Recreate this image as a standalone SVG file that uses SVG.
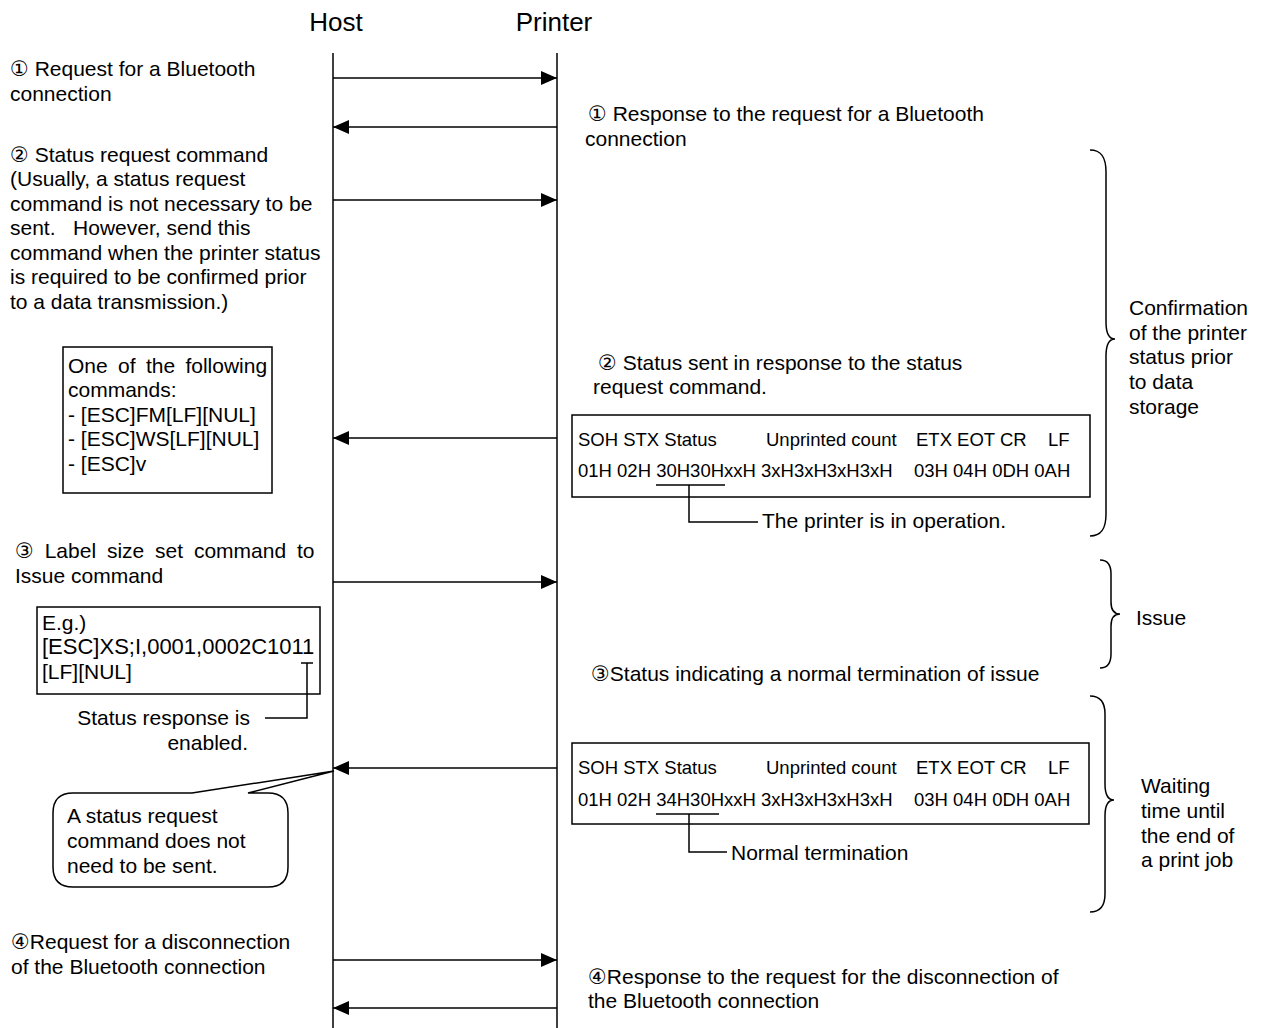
<svg xmlns="http://www.w3.org/2000/svg" width="1266" height="1028" viewBox="0 0 1266 1028">
<defs>
<marker id="ah" markerWidth="16" markerHeight="14" refX="16" refY="7" orient="auto" markerUnits="userSpaceOnUse">
<path d="M0,0 L16,7 L0,14 Z" fill="#000"/>
</marker>
<style>
text{font-family:"Liberation Sans",Arial,"DejaVu Sans",sans-serif;fill:#000;}
.t{font-size:21px;}
.s{font-size:18.5px;}
.h{font-size:26px;}
.ln{stroke:#000;stroke-width:1.5;fill:none;}
.msg{stroke:#000;stroke-width:1.5;fill:none;marker-end:url(#ah);}
.box{stroke:#000;stroke-width:1.5;fill:#fff;}
</style>
</defs>
<rect width="1266" height="1028" fill="#fff"/>

<g id="host">
<text class="h" x="336" y="31" text-anchor="middle">Host</text>
<line class="ln" x1="333" y1="53" x2="333" y2="1028"/>
</g>
<g id="printer">
<text class="h" x="554" y="31" text-anchor="middle">Printer</text>
<line class="ln" x1="557" y1="53" x2="557" y2="1028"/>
</g>

<g id="connectors">
<line class="msg" x1="333" y1="78" x2="557" y2="78"/>
<line class="msg" x1="557" y1="127" x2="333" y2="127"/>
<line class="msg" x1="333" y1="200" x2="557" y2="200"/>
<line class="msg" x1="557" y1="438" x2="333" y2="438"/>
<line class="msg" x1="333" y1="582" x2="557" y2="582"/>
<line class="msg" x1="557" y1="768" x2="333" y2="768"/>
<line class="msg" x1="333" y1="960" x2="557" y2="960"/>
<line class="msg" x1="557" y1="1008" x2="333" y2="1008"/>
</g>

<g id="req1">
<text class="t" x="10" y="76">① Request for a Bluetooth</text>
<text class="t" x="10" y="101">connection</text>
</g>
<g id="resp1">
<text class="t" x="588" y="121">① Response to the request for a Bluetooth</text>
<text class="t" x="585" y="146">connection</text>
</g>

<g id="req2">
<text class="t" x="10" y="162">② Status request command</text>
<text class="t" x="10" y="186">(Usually, a status request</text>
<text class="t" x="10" y="211">command is not necessary to be</text>
<text class="t" x="10" y="235" xml:space="preserve">sent.   However, send this</text>
<text class="t" x="10" y="260">command when the printer status</text>
<text class="t" x="10" y="284">is required to be confirmed prior</text>
<text class="t" x="10" y="309">to a data transmission.)</text>
</g>

<g id="cmdbox">
<rect class="box" x="63" y="347" width="209" height="146"/>
<text class="t" x="68" y="373" style="word-spacing:4.5px">One of the following</text>
<text class="t" x="68" y="397">commands:</text>
<text class="t" x="68" y="422">- [ESC]FM[LF][NUL]</text>
<text class="t" x="68" y="446">- [ESC]WS[LF][NUL]</text>
<text class="t" x="68" y="471">- [ESC]v</text>
</g>

<g id="resp2">
<text class="t" x="598" y="370">② Status sent in response to the status</text>
<text class="t" x="593" y="394">request command.</text>
</g>

<g id="statusbox1">
<rect class="box" x="572" y="415" width="518" height="82"/>
<text class="s" x="578" y="446">SOH STX Status</text>
<text class="s" x="766" y="446">Unprinted count</text>
<text class="s" x="916" y="446">ETX EOT CR</text>
<text class="s" x="1048" y="446">LF</text>
<text class="s" x="578" y="477">01H 02H 30H30HxxH 3xH3xH3xH3xH</text>
<text class="s" x="914" y="477">03H 04H 0DH 0AH</text>
<line class="ln" x1="656" y1="485" x2="725" y2="485"/>
<polyline class="ln" points="689,485 689,522 758,522"/>
<text class="t" x="762" y="528">The printer is in operation.</text>
</g>

<g id="brace1">
<path class="ln" d="M1090,150 C1102,150 1106,158 1106,172 L1106,322 C1106,334 1110,339 1115,339 C1110,339 1106,344 1106,356 L1106,514 C1106,528 1102,536 1090,536"/>
<text class="t" x="1129" y="315">Confirmation</text>
<text class="t" x="1129" y="340">of the printer</text>
<text class="t" x="1129" y="364">status prior</text>
<text class="t" x="1129" y="389">to data</text>
<text class="t" x="1129" y="414">storage</text>
</g>

<g id="req3">
<text class="t" x="15" y="558" style="word-spacing:5px">③ Label size set command to</text>
<text class="t" x="15" y="583">Issue command</text>
</g>

<g id="egbox">
<rect class="box" x="37" y="607" width="283" height="87"/>
<text class="t" x="42" y="630">E.g.)</text>
<text x="42" y="654" style="font-size:22px">[ESC]XS;I,0001,0002C1011</text>
<text class="t" x="42" y="679">[LF][NUL]</text>
<line class="ln" x1="301" y1="663" x2="313" y2="663"/>
<polyline class="ln" points="307,663 307,718 265,718"/>
<text class="t" x="250" y="725" text-anchor="end">Status response is</text>
<text class="t" x="248" y="750" text-anchor="end">enabled.</text>
</g>

<g id="brace2">
<path class="ln" d="M1100,560 C1108,560 1111,565 1111,574 L1111,602 C1111,610 1114,614 1120,614 C1114,614 1111,618 1111,626 L1111,654 C1111,663 1108,668 1100,668"/>
<text class="t" x="1136" y="625">Issue</text>
</g>

<g id="resp3">
<text class="t" x="591" y="681">③Status indicating a normal termination of issue</text>
</g>

<g id="brace3">
<path class="ln" d="M1090,696 C1100,696 1105,702 1105,714 L1105,784 C1105,795 1108,800 1114,800 C1108,800 1105,805 1105,816 L1105,894 C1105,906 1100,912 1090,912"/>
<text class="t" x="1141" y="793">Waiting</text>
<text class="t" x="1141" y="818">time until</text>
<text class="t" x="1141" y="843">the end of</text>
<text class="t" x="1141" y="867">a print job</text>
</g>

<g id="statusbox2">
<rect class="box" x="572" y="743" width="517" height="81"/>
<text class="s" x="578" y="774">SOH STX Status</text>
<text class="s" x="766" y="774">Unprinted count</text>
<text class="s" x="916" y="774">ETX EOT CR</text>
<text class="s" x="1048" y="774">LF</text>
<text class="s" x="578" y="806">01H 02H 34H30HxxH 3xH3xH3xH3xH</text>
<text class="s" x="914" y="806">03H 04H 0DH 0AH</text>
<line class="ln" x1="656" y1="814" x2="719" y2="814"/>
<polyline class="ln" points="689,814 689,852 727,852"/>
<text class="t" x="731" y="860">Normal termination</text>
</g>

<g id="callout">
<path class="ln" style="fill:#fff" d="M73,793 L192,793 L334,771 L248,793 L268,793 Q288,793 288,813 L288,867 Q288,887 268,887 L73,887 Q53,887 53,867 L53,813 Q53,793 73,793 Z"/>
<text class="t" x="67" y="823">A status request</text>
<text class="t" x="67" y="848">command does not</text>
<text class="t" x="67" y="873">need to be sent.</text>
</g>

<g id="req4">
<text class="t" x="11" y="949">④Request for a disconnection</text>
<text class="t" x="11" y="974">of the Bluetooth connection</text>
</g>
<g id="resp4">
<text class="t" x="588" y="984">④Response to the request for the disconnection of</text>
<text class="t" x="588" y="1008">the Bluetooth connection</text>
</g>
</svg>
